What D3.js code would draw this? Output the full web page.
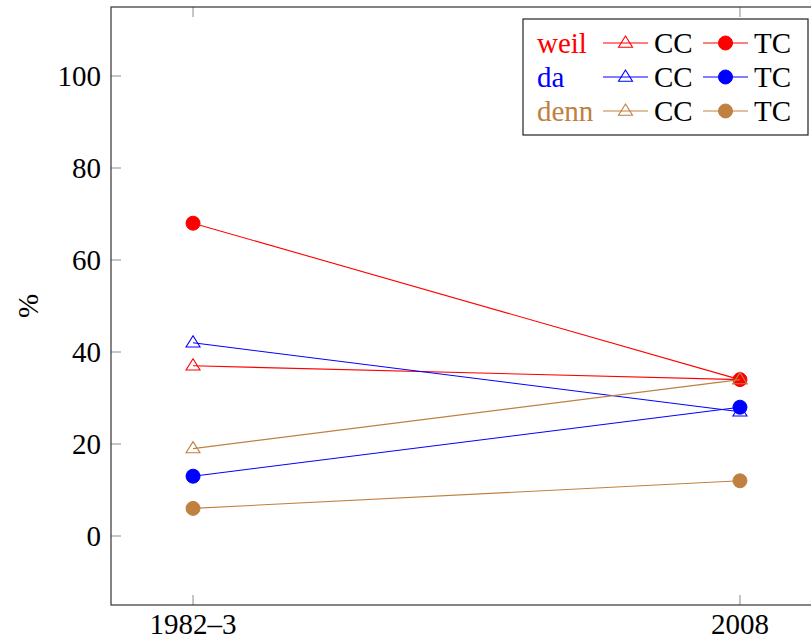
<!DOCTYPE html>
<html>
<head>
<meta charset="utf-8">
<script src="https://cdn.jsdelivr.net/npm/d3@7"></script>
<style>
  body { margin: 0; background: #fff; }
  svg { display: block; }
  text { font-family: "Liberation Serif", "DejaVu Serif", serif; }
</style>
</head>
<body>
<div id="chart"></div>
<script>
// DATA
var periods = ["1982–3", "2008"];
var yTicks = [0, 20, 40, 60, 80, 100];
var connectives = ["weil", "da", "denn"];
var colors = ["#ff0000", "#0000ff", "#bf8040"];
var weilCC = [37, 34];
var weilTC = [68, 34];
var daCC = [42, 27];
var daTC = [13, 28];
var dennCC = [19, 34];
var dennTC = [6, 12];

var series = [
  { word: "weil", kind: "CC", color: colors[0], values: weilCC },
  { word: "weil", kind: "TC", color: colors[0], values: weilTC },
  { word: "da", kind: "CC", color: colors[1], values: daCC },
  { word: "da", kind: "TC", color: colors[1], values: daTC },
  { word: "denn", kind: "CC", color: colors[2], values: dennCC },
  { word: "denn", kind: "TC", color: colors[2], values: dennTC },
];

// CHART SETUP
var W = 811, H = 639;
var plotLeft = 111, plotRight = 822, plotTop = 7, plotBottom = 605;
var fontSize = 29;

var svg = d3.select("#chart").append("svg")
  .attr("width", W).attr("height", H);

var xScale = d3.scaleLinear().domain([-0.15, 1.15]).range([plotLeft, plotRight]);
var yScale = d3.scaleLinear().domain([-15, 115]).range([plotBottom, plotTop]);

// TICKS (inward, both sides)
var tickColor = "#8c8c8c", tickLen = 10;
yTicks.forEach(function (t) {
  svg.append("line").attr("x1", plotLeft).attr("x2", plotLeft + tickLen)
    .attr("y1", yScale(t)).attr("y2", yScale(t))
    .attr("stroke", tickColor).attr("stroke-width", 1);
  svg.append("line").attr("x1", plotRight).attr("x2", plotRight - tickLen)
    .attr("y1", yScale(t)).attr("y2", yScale(t))
    .attr("stroke", tickColor).attr("stroke-width", 1);
  svg.append("text").attr("x", plotLeft - 10).attr("y", yScale(t))
    .attr("text-anchor", "end").attr("dominant-baseline", "central")
    .style("font-size", fontSize + "px").text(t);
});
periods.forEach(function (p, i) {
  svg.append("line").attr("x1", xScale(i)).attr("x2", xScale(i))
    .attr("y1", plotBottom).attr("y2", plotBottom - tickLen)
    .attr("stroke", tickColor).attr("stroke-width", 1);
  svg.append("line").attr("x1", xScale(i)).attr("x2", xScale(i))
    .attr("y1", plotTop).attr("y2", plotTop + tickLen)
    .attr("stroke", tickColor).attr("stroke-width", 1);
  svg.append("text").attr("x", xScale(i)).attr("y", plotBottom + 19)
    .attr("text-anchor", "middle").attr("dominant-baseline", "central")
    .style("font-size", fontSize + "px").text(p);
});

// Y LABEL
svg.append("text")
  .attr("transform", "translate(28," + (plotTop + plotBottom) / 2 + ") rotate(-90)")
  .attr("text-anchor", "middle").attr("dominant-baseline", "central")
  .style("font-size", fontSize + "px").text("%");

// LINES + MARKERS
var line = d3.line().x(function (d, i) { return xScale(i); })
  .y(function (d) { return yScale(d); });

function marker(g, kind, color, x, y) {
  if (kind == "TC") {
    g.append("circle").attr("cx", x).attr("cy", y).attr("r", 7)
      .attr("fill", color).attr("stroke", color);
  } else {
    var s = 7;
    g.append("path")
      .attr("d", "M" + x + "," + (y - s) + "L" + (x + s) + "," + (y + s * 0.6) +
        "L" + (x - s) + "," + (y + s * 0.6) + "Z")
      .attr("fill", "none")
      .attr("stroke", color).attr("stroke-width", 1.1);
  }
}

series.forEach(function (s) {
  var g = svg.append("g");
  g.append("path").datum(s.values).attr("d", line)
    .attr("fill", "none").attr("stroke", s.color).attr("stroke-width", 1.1);
  s.values.forEach(function (v, i) {
    marker(g, s.kind, s.color, xScale(i), yScale(v));
  });
});

// AXIS BOX
svg.append("rect").attr("x", plotLeft).attr("y", plotTop)
  .attr("width", plotRight - plotLeft).attr("height", plotBottom - plotTop)
  .attr("fill", "none").attr("stroke", "#333").attr("stroke-width", 1.2);

// LEGEND
var lg = svg.append("g");
lg.append("rect").attr("x", 523).attr("y", 19).attr("width", 285).attr("height", 116)
  .attr("fill", "white").attr("stroke", "#222").attr("stroke-width", 1.2);
connectives.forEach(function (c, r) {
  var y = 43 + r * 34;
  lg.append("text").attr("x", 537).attr("y", y).attr("dominant-baseline", "central")
    .attr("fill", colors[r]).style("font-size", fontSize + "px").text(c);
  [["CC", 603], ["TC", 703]].forEach(function (k) {
    lg.append("line").attr("x1", k[1]).attr("x2", k[1] + 45)
      .attr("y1", y).attr("y2", y).attr("stroke", colors[r]).attr("stroke-width", 1.1);
    marker(lg, k[0], colors[r], k[1] + 22.5, y);
    lg.append("text").attr("x", k[1] + 51).attr("y", y).attr("dominant-baseline", "central")
      .style("font-size", fontSize + "px").text(k[0]);
  });
});
</script>
</body>
</html>
